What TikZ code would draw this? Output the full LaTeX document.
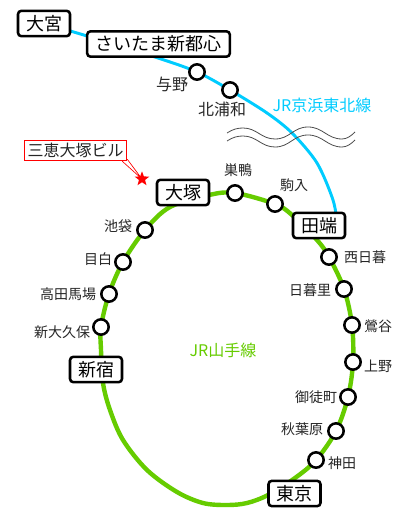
\documentclass[tikz,border=0pt]{standalone}
\usepackage{fontspec}
\setmainfont{Noto Sans CJK JP}
\usetikzlibrary{shapes.geometric,backgrounds}
\definecolor{ringgreen}{HTML}{66CC00}
\definecolor{keihin}{HTML}{00CCFF}
\tikzset{
 x=0.75pt,y=-0.75pt,
 stn/.style={circle,draw=black,fill=white,line width=1.9pt,minimum size=11.5pt,inner sep=0pt},
 major/.style={draw=black,fill=white,rounded corners=2.5pt,line width=1.9pt,inner sep=0pt,minimum height=19pt,font=\fontsize{13.5pt}{15pt}\selectfont},
 lbl/.style={inner sep=0pt,font=\fontsize{10.5pt}{12pt}\selectfont,text=black!85},
 biglbl/.style={inner sep=0pt,font=\fontsize{12pt}{14pt}\selectfont,text=black!85},
 linename/.style={inner sep=0pt,font=\fontsize{12pt}{14pt}\selectfont},
 wave/.style={draw=black!70,line width=0.6pt},
}
\begin{document}
\begin{tikzpicture}
\useasboundingbox (0,0) rectangle (400,520);
% major stations
\node[major,minimum width=39pt] (omiya) at (44,23.5) {大宮};
\node[major,minimum width=107pt] (saitama) at (158.5,44) {さいたま新都心};
\node[major,minimum width=39pt] (otsuka) at (183,192.5) {大塚};
\node[major,minimum width=39pt] (tabata) at (319,225.5) {田端};
\node[major,minimum width=39pt] (shinjuku) at (96,369.5) {新宿};
\node[major,minimum width=39pt] (tokyo) at (294.5,493.5) {東京};
% small stations
\node[stn] (yono) at (197,72) {};
\node[stn] (kitaurawa) at (230,90) {};
\node[stn] (sugamo) at (235,193) {};
\node[stn] (komagome) at (275,204) {};
\node[stn] (nishinippori) at (329,257) {};
\node[stn] (nippori) at (344,289) {};
\node[stn] (uguisudani) at (352,325) {};
\node[stn] (ueno) at (353,362) {};
\node[stn] (okachimachi) at (348,397) {};
\node[stn] (akihabara) at (336,431) {};
\node[stn] (kanda) at (316,460) {};
\node[stn] (ikebukuro) at (145,230) {};
\node[stn] (mejiro) at (123,262) {};
\node[stn] (takadanobaba) at (109,294) {};
\node[stn] (shinokubo) at (101,327) {};
% lines
\begin{scope}[on background layer]
\fill[white] (0,0) rectangle (400,520);
\draw[keihin,line width=2.2pt] plot[smooth,tension=0.5] coordinates {(60,28) (87,36) (158,58) (yono) (kitaurawa) (267,113) (292,133) (317,163) (333,200) (337.5,225)};
\draw[ringgreen,line width=3.3pt] plot[smooth cycle,tension=0.55] coordinates {(shinokubo) (takadanobaba) (mejiro) (ikebukuro) (170,207) (209,195) (sugamo) (komagome) (292,215) (317,240) (nishinippori) (nippori) (uguisudani) (ueno) (okachimachi) (akihabara) (kanda) (295,478) (268,495) (247,503) (227,505) (203,503) (177,492) (147,470) (123,440) (110,410) (103,383) (101,350)};
\end{scope}
% river
\draw[wave] (227,133) .. controls (233,129) and (238,128) .. (243,128) .. controls (257,128) and (261,139) .. (275,139) .. controls (290,139) and (293,127) .. (308,127) .. controls (323,127) and (327,139) .. (342,139) .. controls (347,139) and (351,136) .. (355,132);
\draw[wave] (227,141) .. controls (233,137) and (238,136) .. (243,136) .. controls (257,136) and (261,147) .. (275,147) .. controls (290,147) and (293,135) .. (308,135) .. controls (323,135) and (327,147) .. (342,147) .. controls (347,147) and (351,144) .. (355,140);
% labels
\node[biglbl] (lyono) at (172,84) {与野};
\node[biglbl] (lkita) at (222,109) {北浦和};
\node[lbl] (lsugamo) at (238,170) {巣鴨};
\node[lbl] (lkoma) at (294,185) {駒入};
\node[lbl] (lnishi) at (365,257) {西日暮};
\node[lbl] (lnipp) at (310,290) {日暮里};
\node[lbl] (lugu) at (378,326) {鶯谷};
\node[lbl] (lueno) at (378,366) {上野};
\node[lbl] (lokachi) at (316,397) {御徒町};
\node[lbl] (lakiba) at (302,429) {秋葉原};
\node[lbl] (lkanda) at (342,463) {神田};
\node[lbl] (likebu) at (118,226) {池袋};
\node[lbl] (lmeji) at (98,259) {目白};
\node[lbl] (ltaka) at (68,294) {高田馬場};
\node[lbl] (lshinok) at (62,332) {新大久保};
\node[linename,text=keihin] (lkeihin) at (322,105) {JR京浜東北線};
\node[linename,text=ringgreen] (lyama) at (223,350) {JR山手線};
% callout
\node[star,star points=5,star point ratio=2.4,fill=red,inner sep=0pt,minimum size=11.5pt] (bldg) at (142,179) {};
\node[draw=red,fill=white,line width=0.6pt,inner sep=0pt,minimum width=77pt,minimum height=15.5pt,font=\fontsize{12pt}{14pt}\selectfont,text=black!85] (callout) at (75.5,150.5) {三恵大塚ビル};
\path (callout.south east) ++(-5,0) coordinate (ta) (callout.south east) ++(0,-2) coordinate (tb);
\draw[red,line width=0.5pt] (ta) -- (bldg.center) (tb) -- (bldg.center);
\end{tikzpicture}
\end{document}
